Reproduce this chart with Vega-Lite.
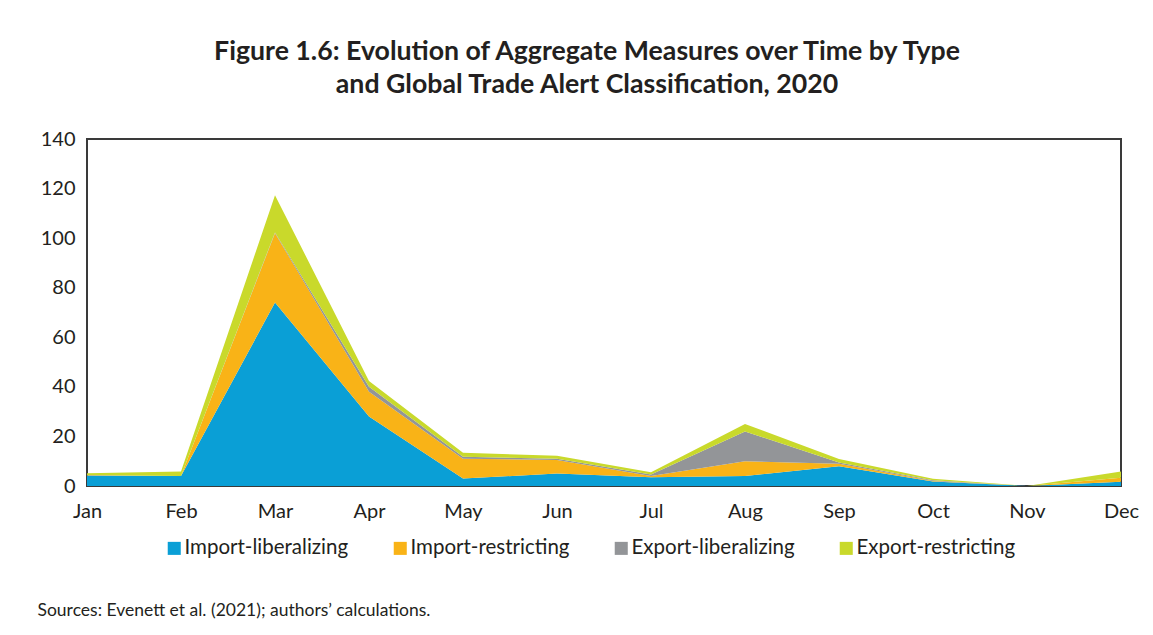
{
  "$schema": "https://vega.github.io/schema/vega-lite/v6.json",
  "autosize": "none",
  "width": 1034,
  "height": 347,
  "padding": {"left": 87, "top": 139, "right": 32, "bottom": 149},
  "background": "white",
  "title": {
    "text": ["Figure 1.6: Evolution of Aggregate Measures over Time by Type", "and Global Trade Alert Classification, 2020"],
    "font": "Lato",
    "fontWeight": "bold",
    "fontSize": 26.7,
    "lineHeight": 33,
    "color": "#231f20",
    "anchor": "middle",
    "dx": -17,
    "offset": 30
  },
  "datasets": {
    "types": [
      {"type": "Import-liberalizing", "rank": 1},
      {"type": "Import-restricting", "rank": 2},
      {"type": "Export-liberalizing", "rank": 3},
      {"type": "Export-restricting", "rank": 4}
    ]
  },
  "data": {
    "values": [
      {"month": "Jan", "type": "Import-liberalizing", "value": 4},
      {"month": "Jan", "type": "Import-restricting", "value": 0},
      {"month": "Jan", "type": "Export-liberalizing", "value": 0.3},
      {"month": "Jan", "type": "Export-restricting", "value": 0.8},
      {"month": "Feb", "type": "Import-liberalizing", "value": 4},
      {"month": "Feb", "type": "Import-restricting", "value": 0},
      {"month": "Feb", "type": "Export-liberalizing", "value": 0},
      {"month": "Feb", "type": "Export-restricting", "value": 1.8},
      {"month": "Mar", "type": "Import-liberalizing", "value": 74},
      {"month": "Mar", "type": "Import-restricting", "value": 28},
      {"month": "Mar", "type": "Export-liberalizing", "value": 0.3},
      {"month": "Mar", "type": "Export-restricting", "value": 15},
      {"month": "Apr", "type": "Import-liberalizing", "value": 28},
      {"month": "Apr", "type": "Import-restricting", "value": 10},
      {"month": "Apr", "type": "Export-liberalizing", "value": 2},
      {"month": "Apr", "type": "Export-restricting", "value": 2.4},
      {"month": "May", "type": "Import-liberalizing", "value": 3},
      {"month": "May", "type": "Import-restricting", "value": 8},
      {"month": "May", "type": "Export-liberalizing", "value": 0.8},
      {"month": "May", "type": "Export-restricting", "value": 1.6},
      {"month": "Jun", "type": "Import-liberalizing", "value": 5},
      {"month": "Jun", "type": "Import-restricting", "value": 5.5},
      {"month": "Jun", "type": "Export-liberalizing", "value": 0.5},
      {"month": "Jun", "type": "Export-restricting", "value": 1.2},
      {"month": "Jul", "type": "Import-liberalizing", "value": 3.5},
      {"month": "Jul", "type": "Import-restricting", "value": 0.5},
      {"month": "Jul", "type": "Export-liberalizing", "value": 0.6},
      {"month": "Jul", "type": "Export-restricting", "value": 0.9},
      {"month": "Aug", "type": "Import-liberalizing", "value": 4},
      {"month": "Aug", "type": "Import-restricting", "value": 6},
      {"month": "Aug", "type": "Export-liberalizing", "value": 12},
      {"month": "Aug", "type": "Export-restricting", "value": 3},
      {"month": "Sep", "type": "Import-liberalizing", "value": 8},
      {"month": "Sep", "type": "Import-restricting", "value": 1},
      {"month": "Sep", "type": "Export-liberalizing", "value": 0.5},
      {"month": "Sep", "type": "Export-restricting", "value": 1.4},
      {"month": "Oct", "type": "Import-liberalizing", "value": 1.8},
      {"month": "Oct", "type": "Import-restricting", "value": 0.2},
      {"month": "Oct", "type": "Export-liberalizing", "value": 0.3},
      {"month": "Oct", "type": "Export-restricting", "value": 0.6},
      {"month": "Nov", "type": "Import-liberalizing", "value": 0},
      {"month": "Nov", "type": "Import-restricting", "value": 0},
      {"month": "Nov", "type": "Export-liberalizing", "value": 0},
      {"month": "Nov", "type": "Export-restricting", "value": 0},
      {"month": "Dec", "type": "Import-liberalizing", "value": 1.7},
      {"month": "Dec", "type": "Import-restricting", "value": 1.6},
      {"month": "Dec", "type": "Export-liberalizing", "value": 0},
      {"month": "Dec", "type": "Export-restricting", "value": 2.5}
    ]
  },
  "transform": [
    {"lookup": "type", "from": {"data": {"name": "types"}, "key": "type", "fields": ["rank"]}}
  ],
  "mark": {"type": "area", "interpolate": "linear"},
  "encoding": {
    "x": {
      "field": "month",
      "type": "ordinal",
      "sort": ["Jan", "Feb", "Mar", "Apr", "May", "Jun", "Jul", "Aug", "Sep", "Oct", "Nov", "Dec"],
      "scale": {"type": "point", "padding": 0},
      "axis": {
        "labelAngle": 0,
        "domain": false,
        "ticks": false,
        "labelPadding": 15,
        "labelFont": "Lato",
        "labelFontSize": 20,
        "labelColor": "#231f20",
        "title": "Sources: Evenett et al. (2021); authors\u2019 calculations.",
        "titleFont": "Lato",
        "titleFontSize": 17.5,
        "titleFontWeight": "normal",
        "titleColor": "#231f20",
        "titleX": -50,
        "titleY": 129,
        "titleAnchor": "start",
        "titleAlign": "left",
        "titleBaseline": "alphabetic"
      }
    },
    "y": {
      "field": "value",
      "type": "quantitative",
      "stack": "zero",
      "scale": {"domain": [0, 140], "nice": false},
      "axis": {
        "values": [0, 20, 40, 60, 80, 100, 120, 140],
        "domain": false,
        "ticks": false,
        "grid": false,
        "labelPadding": 12,
        "labelFont": "Lato",
        "labelFontSize": 20,
        "labelColor": "#231f20",
        "title": null
      }
    },
    "color": {
      "field": "type",
      "type": "nominal",
      "scale": {
        "domain": ["Import-liberalizing", "Import-restricting", "Export-liberalizing", "Export-restricting"],
        "range": ["#0a9fd6", "#f9b317", "#939598", "#c9d92b"]
      },
      "legend": {
        "title": null,
        "orient": "none",
        "legendX": 77,
        "legendY": 399,
        "direction": "horizontal",
        "symbolType": "square",
        "symbolSize": 170,
        "symbolStrokeWidth": 0,
        "labelFont": "Lato",
        "labelFontSize": 20.5,
        "labelLimit": 400,
        "labelColor": "#231f20",
        "labelOffset": 0,
        "columnPadding": 41
      }
    },
    "order": {"field": "rank", "type": "quantitative", "sort": "ascending"}
  },
  "config": {
    "view": {"stroke": "#3a3a3a", "strokeWidth": 2}
  }
}
